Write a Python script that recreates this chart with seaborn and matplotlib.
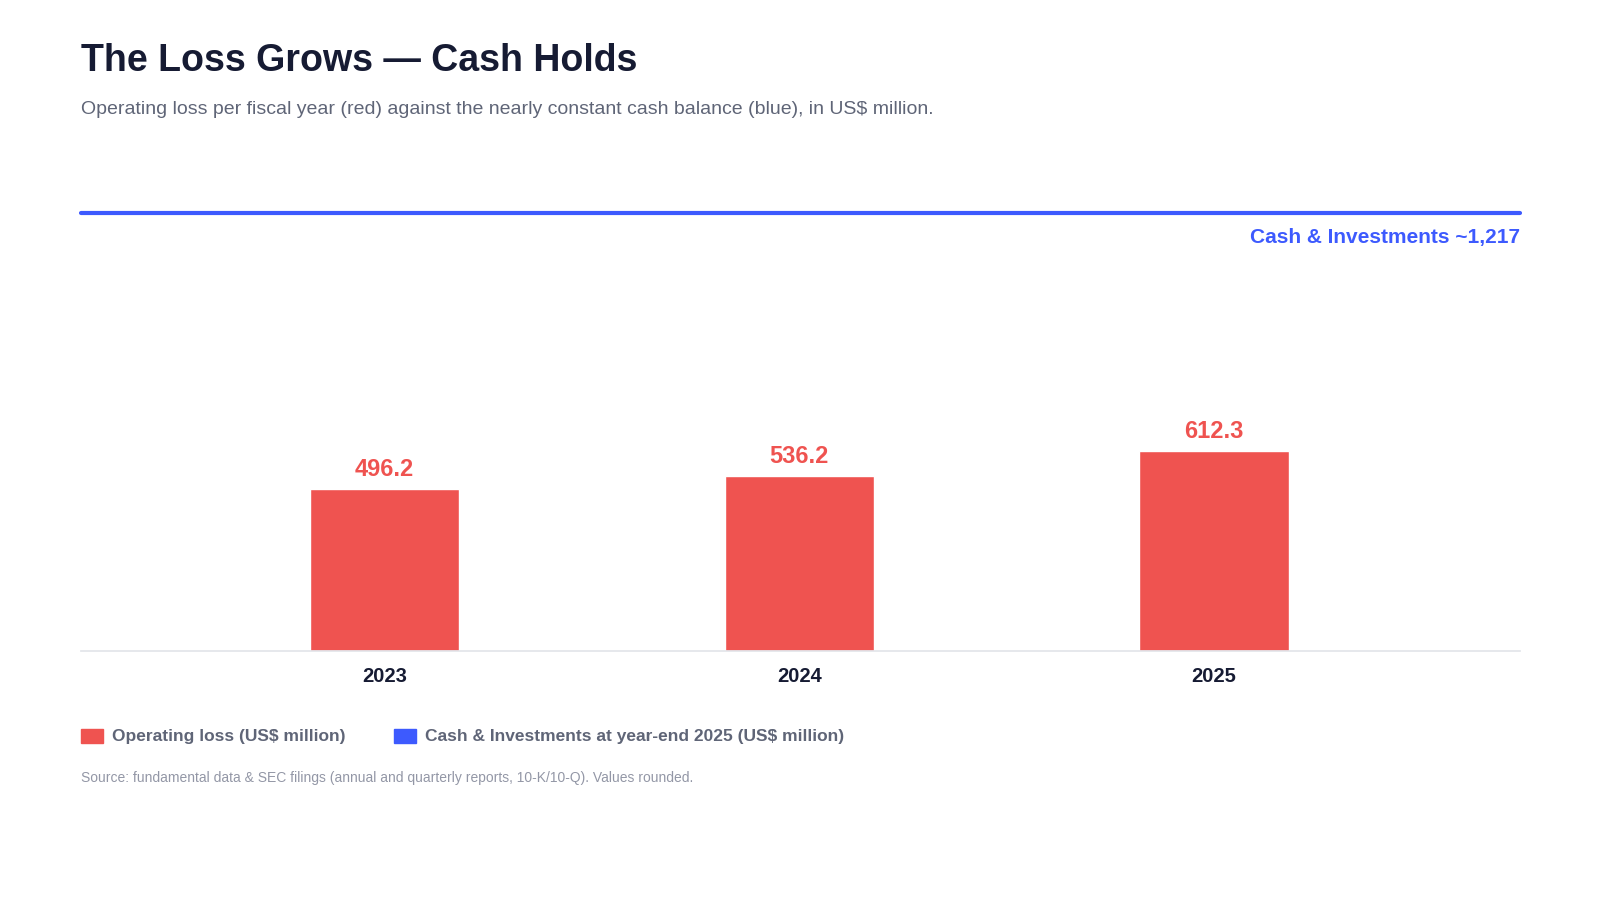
import matplotlib
matplotlib.use("Agg")
import matplotlib.pyplot as plt
import seaborn as sns
import pandas as pd
from matplotlib.patches import Rectangle

years = ["2023", "2024", "2025"]
operating_loss = [496.2, 536.2, 612.3]
cash_value = 1217

RED = "#EF5350"
BLUE = "#3D5AFE"
DARK = "#161B33"
GRAY = "#5F6577"

sns.set_theme(style="white")
plt.rcParams['font.family'] = ['Liberation Sans', 'DejaVu Sans']

df = pd.DataFrame({"year": years, "loss": operating_loss})
fig = plt.figure(figsize=(16, 9), dpi=100)
ax = fig.add_axes([0.0504, 0.277, 0.8996, 0.486])
sns.barplot(data=df, x="year", y="loss", color=RED, width=0.36, ax=ax, saturation=1)
ax.set_ylim(0, 1340)
ax.set_xlim(-0.733, 2.738)
for i, v in enumerate(operating_loss):
    ax.text(i, v + 25, f"{v:.1f}", ha="center", va="bottom", color=RED,
            fontsize=17, fontweight="bold")
# cash line at top of plot area
ax.plot([0, 1], [1, 1], transform=ax.transAxes, color=BLUE, lw=3, clip_on=False)
ax.text(1, 0.945, f"Cash & Investments ~{cash_value:,}", transform=ax.transAxes,
        ha="right", va="center", color=BLUE, fontsize=15, fontweight="bold")

for s in ["top", "right", "left"]:
    ax.spines[s].set_visible(False)
ax.spines["bottom"].set_color("#E3E5EA")
ax.set_yticks([])
ax.set_xlabel("")
ax.set_ylabel("")
ax.tick_params(axis="x", length=0, pad=12)
for t in ax.get_xticklabels():
    t.set_fontsize(14.5)
    t.set_fontweight("bold")
    t.set_color(DARK)

fig.text(0.0504, 0.932, "The Loss Grows — Cash Holds", fontsize=27, fontweight="bold",
         color=DARK, va="center")
fig.text(0.0504, 0.878, "Operating loss per fiscal year (red) against the nearly constant cash balance (blue), in US$ million.",
         fontsize=14, color=GRAY, va="center")

# legend
ly = 0.182
fig.patches.append(Rectangle((0.0504, ly - 0.008), 0.014, 0.016, transform=fig.transFigure,
                             color=RED, figure=fig))
fig.text(0.070, ly, "Operating loss (US$ million)", fontsize=12.5, fontweight="bold",
         color=GRAY, va="center")
fig.patches.append(Rectangle((0.246, ly - 0.008), 0.014, 0.016, transform=fig.transFigure,
                             color=BLUE, figure=fig))
fig.text(0.2655, ly, "Cash & Investments at year-end 2025 (US$ million)", fontsize=12.5,
         fontweight="bold", color=GRAY, va="center")
fig.text(0.0504, 0.136, "Source: fundamental data & SEC filings (annual and quarterly reports, 10-K/10-Q). Values rounded.",
         fontsize=10, color="#9397A6", va="center")

fig.savefig("out.png", dpi=100, facecolor="white")
